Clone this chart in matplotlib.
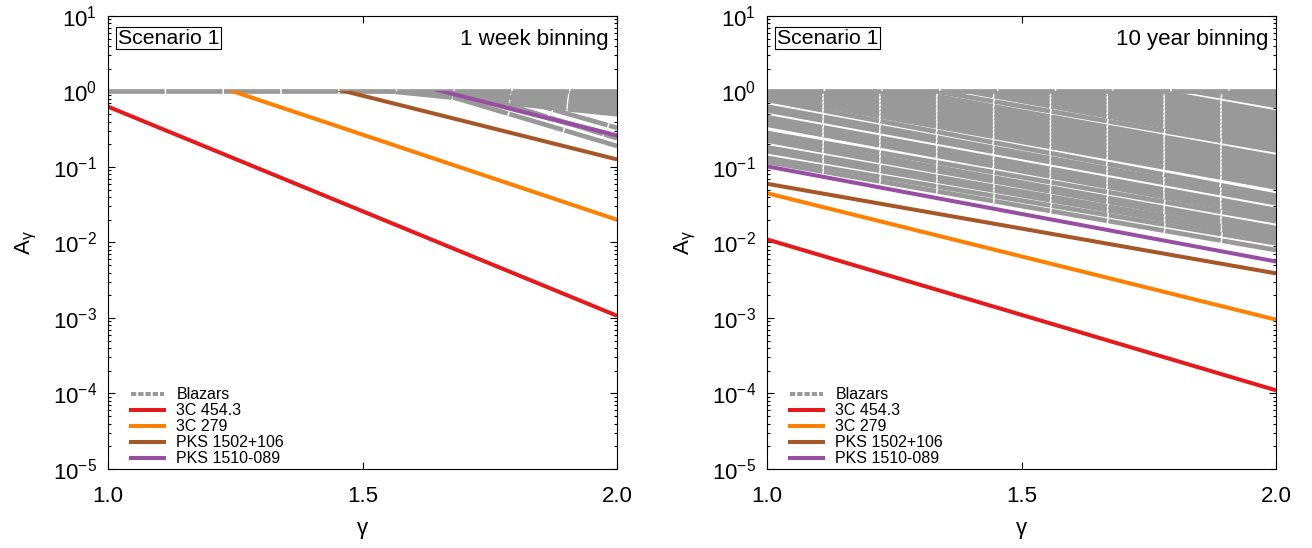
import numpy as np
import matplotlib.pyplot as plt
from matplotlib.lines import Line2D
from matplotlib.patches import Rectangle
from matplotlib.ticker import LogLocator, NullLocator, NullFormatter

plt.rcParams['font.family'] = ['Liberation Sans', 'DejaVu Sans']
plt.rcParams['mathtext.fontset'] = 'custom'
plt.rcParams['mathtext.rm'] = 'Liberation Sans'
plt.rcParams['mathtext.it'] = 'Liberation Sans'
plt.rcParams['axes.unicode_minus'] = False

# spectral index range, amplitudes are given at both ends
GAMMA = [1.0, 2.0]
A_CAP = 1.0

SOURCES = ['3C 454.3', '3C 279', 'PKS 1502+106', 'PKS 1510-089']
COLORS = ['#e41a1c', '#ff7f00', '#a65628', '#984ea3']
GRAY = '#999999'

Y_TICKS = [1e-5, 1e-4, 1e-3, 1e-2, 1e-1, 1e0, 1e1]

# ---- 1 week binning ----
week_src_g1 = [0.63, 3.6, 6.15, 13.4]
week_src_g2 = [1.07e-3, 0.020, 0.126, 0.26]

week_blz_g1 = [2.40, 2.37, 2.27, 2.24, 2.08, 1.69, 19.0, 13.4, 28.0, 27.5]
week_blz_g2 = [0.50, 0.56, 0.63, 0.71, 0.79, 0.89, 0.19, 0.26, 0.24, 0.33]

# ---- 10 year binning ----
year_src_g1 = [0.011, 0.045, 0.060, 0.102]
year_src_g2 = [1.1e-4, 9.5e-4, 3.9e-3, 5.6e-3]

year_blz_g1 = [0.117, 0.132, 0.162, 0.182, 0.224, 0.251, 0.282, 0.363, 0.407,
               0.457, 0.562, 0.631, 0.776, 0.871, 0.977, 1.10, 1.23, 1.38,
               1.55, 1.74, 1.95, 2.19, 2.45, 3.02, 3.39, 3.80, 4.27, 4.79,
               5.37, 6.03, 6.76, 7.59, 8.51, 9.55, 10.7, 12.0, 13.5]
year_blz_g2 = [0.00794, 0.00977, 0.0110, 0.0123, 0.0138, 0.0155, 0.0191,
               0.0214, 0.0240, 0.0269, 0.0331, 0.0372, 0.0417, 0.0537, 0.0603,
               0.0676, 0.0759, 0.0851, 0.0955, 0.107, 0.120, 0.135, 0.166,
               0.186, 0.209, 0.234, 0.263, 0.295, 0.331, 0.372, 0.417, 0.468,
               0.525, 0.646, 0.724, 0.813, 0.912]

LW = 2.9
BLZ_LW = 3.4
BLZ_DASH = (11.9, 0.33)


def draw_panel(ax, blz_g1, blz_g2, src_g1, src_g2, label):
    def clip(line):
        # everything above A_CAP is cut away
        rect = Rectangle((GAMMA[0], 1e-6), GAMMA[1] - GAMMA[0], A_CAP - 1e-6,
                         transform=ax.transData)
        line.set_clip_path(rect)

    # values above the cap sit on A = 1
    ax.plot(GAMMA, [A_CAP, A_CAP], color=GRAY, lw=BLZ_LW, dashes=BLZ_DASH)
    for a1, a2 in zip(blz_g1, blz_g2):
        ln, = ax.plot(GAMMA, [a1, a2], color=GRAY, lw=BLZ_LW, dashes=BLZ_DASH)
        clip(ln)
    for a1, a2, c in zip(src_g1, src_g2, COLORS):
        ln, = ax.plot(GAMMA, [a1, a2], color=c, lw=LW, solid_capstyle='butt')
        clip(ln)

    ax.set_yscale('log')
    ax.set_ylim(1e-5, 10)
    ax.set_xlim(1.0, 2.0)
    ax.set_xticks([1.0, 1.5, 2.0])
    ax.set_xticklabels(['1.0', '1.5', '2.0'])
    ax.xaxis.set_minor_locator(NullLocator())
    ax.set_yticks(Y_TICKS)
    ax.yaxis.set_minor_locator(LogLocator(base=10, subs=np.arange(2, 10), numticks=20))
    ax.yaxis.set_minor_formatter(NullFormatter())
    ax.tick_params(which='both', direction='in', top=True, right=True, labelsize=16)
    ax.tick_params(which='major', length=5, width=0.8)
    ax.tick_params(which='minor', length=2.5, width=0.8)
    ax.tick_params(axis='x', pad=12)
    ax.tick_params(axis='y', pad=8)
    for s in ax.spines.values():
        s.set_linewidth(0.8)

    ax.set_xlabel('γ', fontsize=16, labelpad=8)
    ax.set_ylabel(r'$\mathrm{A}_{\mathrm{\gamma}}$', fontsize=16, labelpad=10)

    ax.text(0.020, 0.951, 'Scenario 1', transform=ax.transAxes, fontsize=15.3,
            ha='left', va='center',
            bbox=dict(boxstyle='square,pad=0.08', fc='white', ec='black', lw=0.8))
    ax.text(0.984, 0.949, label, transform=ax.transAxes, fontsize=16,
            ha='right', va='center')

    handles = [Line2D([], [], color=GRAY, lw=LW, dashes=(1.3, 0.5))]
    handles += [Line2D([], [], color=c, lw=LW) for c in COLORS]
    ax.legend(handles, ['Blazars'] + SOURCES, loc='lower left',
              bbox_to_anchor=(0.045, 0.006), frameon=False, fontsize=11.5,
              handlelength=2.1, handletextpad=0.75, labelspacing=0.06,
              borderpad=0, borderaxespad=0)


fig = plt.figure(figsize=(13.12, 5.48), dpi=100)
ax1 = fig.add_axes([0.0823, 0.1442, 0.388, 0.8266])
ax2 = fig.add_axes([0.5846, 0.1442, 0.388, 0.8266])

draw_panel(ax1, week_blz_g1, week_blz_g2, week_src_g1, week_src_g2, '1 week binning')
draw_panel(ax2, year_blz_g1, year_blz_g2, year_src_g1, year_src_g2, '10 year binning')

fig.savefig('out.png', dpi=100)
